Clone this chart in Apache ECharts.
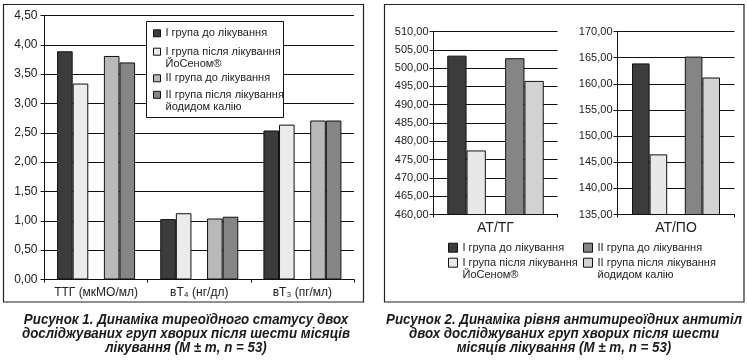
<!DOCTYPE html>
<html><head><meta charset="utf-8">
<script src="https://cdn.jsdelivr.net/npm/echarts@6/dist/echarts.min.js"></script>
<style>html,body{margin:0;padding:0;background:#fff}#c{width:748px;height:363px}</style>
</head><body><div id="c"></div>
<script>
// ---- data ----
const seriesLabels = ['I група до лікування', 'I група після лікування\nЙоСеном®', 'II група до лікування', 'II група після лікування\nйодидом калію'];
const thyroidCategories = ['ТТГ (мкМО/мл)', 'вТ₄ (нг/дл)', 'вТ₃ (пг/мл)'];
const thyroidG1Before = [3.89, 1.03, 2.54];
const thyroidG1After = [3.34, 1.13, 2.64];
const thyroidG2Before = [3.81, 1.04, 2.71];
const thyroidG2After = [3.70, 1.07, 2.71];
const thyroidTicks = [0, 4.5, 0.5];

const antiCategories = ['АТ/ТГ', 'АТ/ПО'];
const antiG1Before = [503.4, 163.9];
const antiG1After = [477.5, 146.5];
const antiG2Before = [502.7, 165.2];
const antiG2After = [496.5, 161.2];
const atTgTicks = [460, 510, 5];
const atPoTicks = [135, 170, 5];

const caption1 = 'Рисунок 1. Динаміка тиреоїдного статусу двох\nдосліджуваних груп хворих після шести місяців\nлікування (M ± m, n = 53)';
const caption2 = 'Рисунок 2. Динаміка рівня антитиреоїдних антитіл\nдвох досліджуваних груп хворих після шести\nмісяців лікування (M ± m, n = 53)';

// ---- styling ----
const FONT = '"Liberation Sans", Arial, sans-serif';
const INK = '#111';
const leftColors = ['#3c3c3c', '#ebebeb', '#b9b9bb', '#858587'];
const rightColors = ['#3c3c3c', '#e8e8e8', '#858585', '#d2d2d2'];
const leftKeys = ['L1', 'L2', 'L3', 'L4'];
const rightKeys = ['R1', 'R2', 'R3', 'R4'];
const labelMap = {};
leftKeys.forEach((k, i) => labelMap[k] = seriesLabels[i]);
rightKeys.forEach((k, i) => labelMap[k] = seriesLabels[i]);
const fmt = v => v.toFixed(2).replace('.', ',');

function yAxis(gi, t, fs, margin) {
  return {
    type: 'value', gridIndex: gi, min: t[0], max: t[1], interval: t[2],
    axisLine: {show: true, lineStyle: {color: INK, width: 1}},
    axisTick: {show: true, length: 4, lineStyle: {color: INK, width: 1}},
    splitLine: {show: true, lineStyle: {color: INK, width: 1}},
    axisLabel: {formatter: fmt, fontSize: fs, color: '#222', margin: margin, fontFamily: FONT}
  };
}
function xAxis(gi, data, fs, margin) {
  return {
    type: 'category', gridIndex: gi, data: data,
    axisLine: {show: true, lineStyle: {color: INK, width: 1}},
    axisTick: {show: true, length: 3, lineStyle: {color: INK, width: 1}},
    axisLabel: {fontSize: fs, color: '#222', margin: margin, fontFamily: FONT, interval: 0, hideOverlap: false}
  };
}
function barSeries(keys, colors, dataArrs, axisIdx, width) {
  const out = [];
  const gapName = 'gap' + axisIdx;
  dataArrs.forEach((d, i) => {
    if (i === 2) {
      out.push({type: 'bar', name: gapName, xAxisIndex: axisIdx, yAxisIndex: axisIdx,
        data: d.map(() => null), barWidth: width, barGap: '0%', silent: true});
    }
    out.push({
      type: 'bar', name: keys[i], xAxisIndex: axisIdx, yAxisIndex: axisIdx, data: d,
      barWidth: width, barGap: '0%',
      itemStyle: {color: colors[i], borderColor: INK, borderWidth: 1}
    });
  });
  return out;
}

// two-line items get an empty leading line so the first text line sits beside the icon
function legendItem(key, color, left, lineCenter, twoLine, size) {
  return {
    show: true, data: [key], left: left, top: twoLine ? lineCenter - 18 : lineCenter - 6,
    orient: 'vertical', padding: 0, itemWidth: size, itemHeight: size, z: 20,
    selectedMode: false,
    icon: 'rect',
    itemStyle: {color: color, borderColor: INK, borderWidth: 1},
    formatter: n => (twoLine ? '\u00a0\n' : '') + labelMap[n],
    textStyle: {fontSize: 11, lineHeight: 12, color: '#222', fontFamily: FONT}
  };
}

const pick = (arr, i) => [arr[i]];

const option = {
  animation: false,
  backgroundColor: '#fff',
  textStyle: {fontFamily: FONT},
  grid: [
    {left: 44.5, right: 748 - 354, top: 15.5, bottom: 363 - 279.5},
    {left: 433.5, right: 748 - 557.5, top: 31.5, bottom: 363 - 214.5},
    {left: 617.5, right: 748 - 734.5, top: 31.5, bottom: 363 - 214.5}
  ],
  xAxis: [
    xAxis(0, thyroidCategories, 12, 7),
    xAxis(1, [antiCategories[0]], 14, 7),
    xAxis(2, [antiCategories[1]], 14, 7)
  ],
  yAxis: [
    yAxis(0, thyroidTicks, 12, 7),
    yAxis(1, atTgTicks, 11, 5),
    yAxis(2, atPoTicks, 11, 5)
  ],
  legend: [
    legendItem('L1', leftColors[0], 153, 33.3, false, 7),
    legendItem('L2', leftColors[1], 153, 51.7, true, 7),
    legendItem('L3', leftColors[2], 153, 78.3, false, 7),
    legendItem('L4', leftColors[3], 153, 94.8, true, 7),
    legendItem('R1', rightColors[0], 448, 247.7, false, 9),
    legendItem('R2', rightColors[1], 448, 262.7, true, 9),
    legendItem('R3', rightColors[2], 583, 247.7, false, 9),
    legendItem('R4', rightColors[3], 583, 262.7, true, 9)
  ],
  series: [].concat(
    barSeries(leftKeys, leftColors, [thyroidG1Before, thyroidG1After, thyroidG2Before, thyroidG2After], 0, 15.6),
    barSeries(rightKeys, rightColors, [pick(antiG1Before, 0), pick(antiG1After, 0), pick(antiG2Before, 0), pick(antiG2After, 0)], 1, 19.3),
    barSeries(rightKeys, rightColors, [pick(antiG1Before, 1), pick(antiG1After, 1), pick(antiG2Before, 1), pick(antiG2After, 1)], 2, 17.6)
  ),
  graphic: [
    {type: 'rect', z: 10, shape: {x: 3.5, y: 4.5, width: 360, height: 297.5},
      style: {fill: 'none', stroke: '#222', lineWidth: 1.2}},
    {type: 'rect', z: 10, shape: {x: 384.5, y: 4.5, width: 359.5, height: 297.5},
      style: {fill: 'none', stroke: '#222', lineWidth: 1.2}},
    {type: 'rect', z: 10, shape: {x: 146.5, y: 21.5, width: 137, height: 96},
      style: {fill: '#fff', stroke: INK, lineWidth: 1}},
    {type: 'text', z: 10, x: 186, y: 312.5, scaleX: 0.89,
      style: {text: caption1, fontSize: 15, fontWeight: 'bold', fontStyle: 'italic', fontFamily: FONT,
        lineHeight: 14.2, fill: '#1a1a1a', align: 'center', verticalAlign: 'top'}},
    {type: 'text', z: 10, x: 564, y: 312.5, scaleX: 0.89,
      style: {text: caption2, fontSize: 15, fontWeight: 'bold', fontStyle: 'italic', fontFamily: FONT,
        lineHeight: 14.2, fill: '#1a1a1a', align: 'center', verticalAlign: 'top'}}
  ]
};

const chart = echarts.init(document.getElementById('c'), null, {renderer: 'canvas'});
chart.setOption(option);
</script>
</body></html>
